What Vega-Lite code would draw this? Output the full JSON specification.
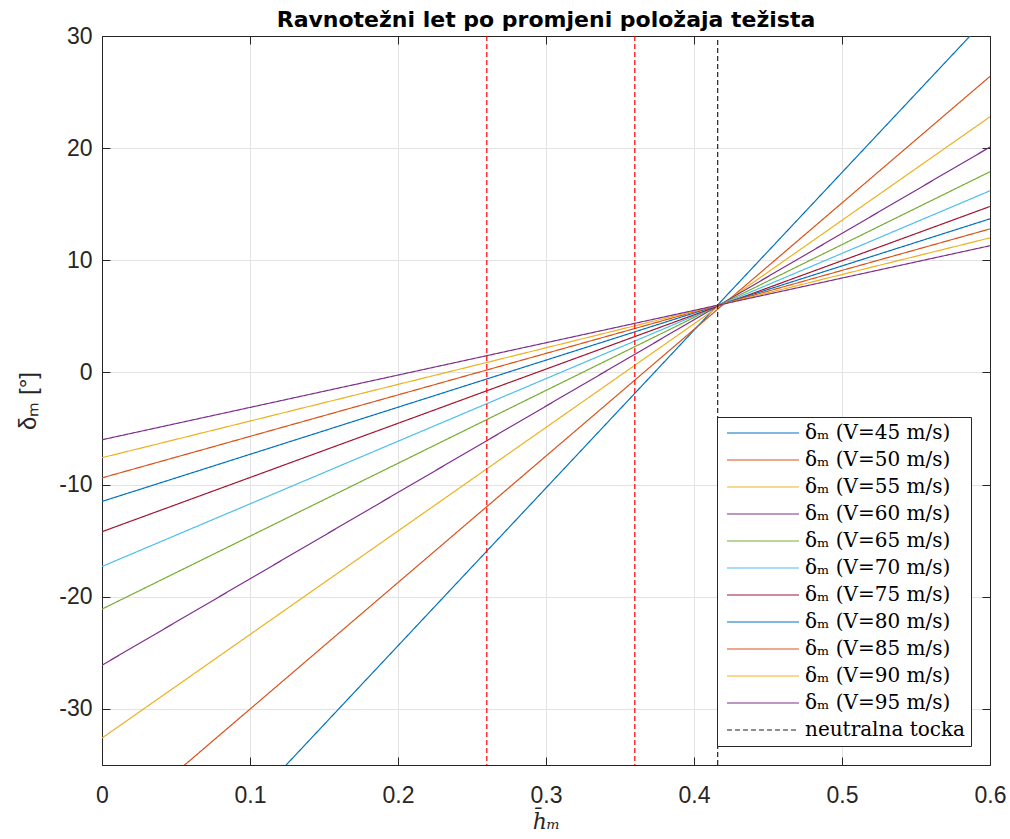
{
  "$schema": "https://vega.github.io/schema/vega-lite/v6.json",
  "width": 888,
  "height": 729,
  "autosize": {"type": "none"},
  "padding": {"left": 102, "top": 36, "right": 20, "bottom": 74},
  "background": "white",
  "title": {"text": "Ravnotežni let po promjeni položaja težista", "font": "DejaVu Sans", "fontSize": 22, "fontWeight": "bold", "color": "#000000", "anchor": "middle", "offset": -7},
  "datasets": {
    "lines": [
      {"series": "δₘ  (V=45 m/s)", "h": 0, "d": -52.5}, {"series": "δₘ  (V=45 m/s)", "h": 0.6, "d": 31.9},
      {"series": "δₘ  (V=50 m/s)", "h": 0, "d": -41.3}, {"series": "δₘ  (V=50 m/s)", "h": 0.6, "d": 26.4},
      {"series": "δₘ  (V=55 m/s)", "h": 0, "d": -32.6}, {"series": "δₘ  (V=55 m/s)", "h": 0.6, "d": 22.8},
      {"series": "δₘ  (V=60 m/s)", "h": 0, "d": -26.1}, {"series": "δₘ  (V=60 m/s)", "h": 0.6, "d": 20.1},
      {"series": "δₘ  (V=65 m/s)", "h": 0, "d": -21.1}, {"series": "δₘ  (V=65 m/s)", "h": 0.6, "d": 17.9},
      {"series": "δₘ  (V=70 m/s)", "h": 0, "d": -17.3}, {"series": "δₘ  (V=70 m/s)", "h": 0.6, "d": 16.2},
      {"series": "δₘ  (V=75 m/s)", "h": 0, "d": -14.2}, {"series": "δₘ  (V=75 m/s)", "h": 0.6, "d": 14.8},
      {"series": "δₘ  (V=80 m/s)", "h": 0, "d": -11.5}, {"series": "δₘ  (V=80 m/s)", "h": 0.6, "d": 13.7},
      {"series": "δₘ  (V=85 m/s)", "h": 0, "d": -9.4}, {"series": "δₘ  (V=85 m/s)", "h": 0.6, "d": 12.8},
      {"series": "δₘ  (V=90 m/s)", "h": 0, "d": -7.6}, {"series": "δₘ  (V=90 m/s)", "h": 0.6, "d": 12.0},
      {"series": "δₘ  (V=95 m/s)", "h": 0, "d": -6.0}, {"series": "δₘ  (V=95 m/s)", "h": 0.6, "d": 11.3}
    ],
    "neutral": [
      {"series": "neutralna tocka", "h": 0.416, "d": -35},
      {"series": "neutralna tocka", "h": 0.416, "d": 30}
    ],
    "limits": [{"h": 0.26}, {"h": 0.36}]
  },
  "layer": [
    {
      "data": {"name": "lines"},
      "mark": {"type": "line", "clip": true, "strokeWidth": 1.2},
      "encoding": {
        "x": {"field": "h", "type": "quantitative", "scale": {"domain": [0, 0.6], "nice": false, "zero": false},
              "axis": {"orient": "bottom", "values": [0, 0.1, 0.2, 0.3, 0.4, 0.5, 0.6], "format": "~g", "labelPadding": 27, "title": "h̄ₘ", "titleFont": "DejaVu Serif", "titleFontStyle": "italic", "titleFontWeight": "normal", "titleFontSize": 22, "titleColor": "#262626", "titlePadding": 4}},
        "y": {"field": "d", "type": "quantitative", "scale": {"domain": [-35, 30], "nice": false, "zero": false},
              "axis": {"orient": "left", "values": [-30, -20, -10, 0, 10, 20, 30], "labelPadding": 18, "labelExpr": "replace(datum.label, '−', '-')", "title": "δₘ [°]", "titleFont": "Liberation Sans", "titleFontWeight": "normal", "titleFontSize": 24, "titleColor": "#262626", "titlePadding": 18}},
        "color": {"field": "series", "type": "nominal", "title": null,
                  "scale": {"domain": ["δₘ  (V=45 m/s)", "δₘ  (V=50 m/s)", "δₘ  (V=55 m/s)", "δₘ  (V=60 m/s)", "δₘ  (V=65 m/s)", "δₘ  (V=70 m/s)", "δₘ  (V=75 m/s)", "δₘ  (V=80 m/s)", "δₘ  (V=85 m/s)", "δₘ  (V=90 m/s)", "δₘ  (V=95 m/s)", "neutralna tocka"],
                            "range": ["#0072BD", "#D95319", "#EDB120", "#7E2F8E", "#77AC30", "#4DBEEE", "#A2142F", "#0072BD", "#D95319", "#EDB120", "#7E2F8E", "#222222"]}},
        "strokeDash": {"field": "series", "type": "nominal", "title": null,
                  "scale": {"domain": ["δₘ  (V=45 m/s)", "δₘ  (V=50 m/s)", "δₘ  (V=55 m/s)", "δₘ  (V=60 m/s)", "δₘ  (V=65 m/s)", "δₘ  (V=70 m/s)", "δₘ  (V=75 m/s)", "δₘ  (V=80 m/s)", "δₘ  (V=85 m/s)", "δₘ  (V=90 m/s)", "δₘ  (V=95 m/s)", "neutralna tocka"],
                            "range": [[1, 0], [1, 0], [1, 0], [1, 0], [1, 0], [1, 0], [1, 0], [1, 0], [1, 0], [1, 0], [1, 0], [5, 3]]}}
      }
    },
    {
      "data": {"name": "limits"},
      "mark": {"type": "rule", "color": "#FF0000", "strokeWidth": 1.2, "strokeDash": [5, 3]},
      "encoding": {
        "x": {"field": "h", "type": "quantitative", "axis": null}
      }
    },
    {
      "data": {"name": "neutral"},
      "mark": {"type": "line", "clip": true, "strokeWidth": 1.2},
      "encoding": {
        "x": {"field": "h", "type": "quantitative", "axis": {"orient": "top", "values": [0, 0.1, 0.2, 0.3, 0.4, 0.5, 0.6], "labels": false, "grid": false, "title": null}},
        "y": {"field": "d", "type": "quantitative", "axis": {"orient": "right", "values": [-30, -20, -10, 0, 10, 20, 30], "labels": false, "grid": false, "title": null}},
        "color": {"field": "series", "type": "nominal", "title": null},
        "strokeDash": {"field": "series", "type": "nominal", "title": null}
      }
    }
  ],
  "resolve": {"axis": {"x": "independent", "y": "independent"}},
  "config": {
    "view": {"stroke": "#262626", "strokeWidth": 1},
    "axis": {
      "labelFont": "Liberation Sans", "labelFontSize": 23, "labelColor": "#262626",
      "domainColor": "#262626", "tickColor": "#262626", "tickSize": -8, "tickWidth": 1,
      "gridColor": "#e3e3e3", "gridWidth": 1, "grid": true, "labelFlush": false
    },
    "legend": {
      "orient": "bottom-right", "offset": 19, "symbolType": "M-6,0H6", "symbolSize": 144, "symbolStrokeWidth": 1.2, "symbolOffset": 30,
      "labelFont": "DejaVu Serif", "labelFontSize": 20, "labelColor": "#000000", "labelLimit": 400,
      "strokeColor": "#262626", "fillColor": "white", "padding": 6, "cornerRadius": 0, "rowPadding": 7, "labelOffset": 32
    }
  }
}
